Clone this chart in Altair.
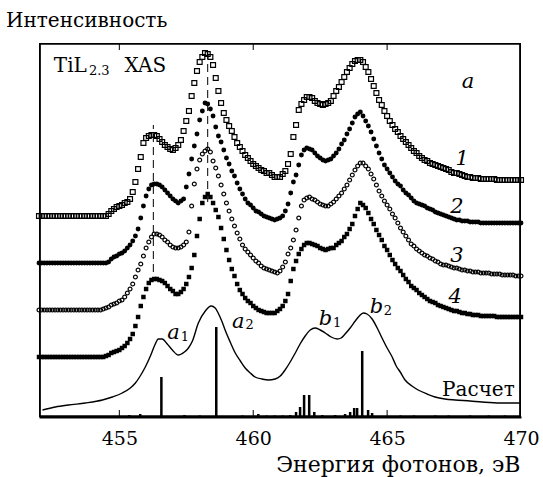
import altair as alt
import pandas as pd

# Photon energy grid of the measured spectra (eV), 0.1 eV step
energy = [round(452 + 0.1 * i, 1) for i in range(181)]

# Experimental TiL2,3 XAS spectra (arbitrary units, already vertically offset)
curve1 = [201] * 26 + [
    203, 206, 208, 210, 211, 212, 214, 215, 218, 225, 235, 248, 260, 274, 279,
    281, 282, 282, 281, 278, 275, 272, 270, 268, 267, 269, 272, 277, 286, 296, 306, 321, 334, 346, 355,
    360, 364, 363, 360, 352, 339, 326, 314, 304, 297, 291, 286, 280, 274, 270, 266, 262, 259, 256, 253,
    251, 249, 247, 246, 244, 244, 242, 240, 240, 240, 243, 246, 253, 263, 280, 292, 307, 313, 317, 320,
    320, 319, 316, 314, 313, 312, 313, 314, 316, 321, 326, 330, 335, 340, 345, 349, 353, 356, 357, 357,
    355, 350, 345, 338, 331, 324, 317, 312, 306, 301, 296, 292, 288, 285, 281, 278, 275, 272, 269, 266,
    264, 261, 259, 257, 256, 254, 253, 252, 251, 250, 249, 248, 247, 245, 244, 244, 243, 242, 241, 240,
    240, 239, 239, 239, 238, 238, 238, 238, 238, 238, 237, 237, 237, 237, 237, 237, 237, 237, 237, 237]

curve2 = [154] * 26 + [
    155, 158, 160, 161, 163, 164, 166, 169, 172, 176, 181, 188, 199, 211, 221,
    228, 232, 233, 233, 232, 230, 227, 224, 221, 218, 216, 214, 216, 218, 230, 243, 258, 271, 283, 297,
    306, 314, 313, 308, 301, 290, 281, 275, 267, 259, 253, 246, 241, 234, 228, 223, 218, 214, 212, 209,
    206, 205, 203, 201, 200, 199, 198, 197, 198, 199, 201, 206, 213, 224, 235, 242, 252, 262, 267, 269,
    268, 267, 264, 261, 259, 257, 256, 257, 258, 261, 264, 268, 273, 277, 283, 288, 294, 300, 303, 305,
    301, 296, 291, 285, 278, 271, 264, 258, 252, 248, 244, 240, 236, 233, 231, 227, 224, 222, 219, 216,
    214, 213, 212, 211, 209, 208, 207, 205, 204, 203, 202, 201, 200, 199, 198, 197, 197, 196, 196, 196,
    195, 195, 195, 195, 194, 194, 194, 194, 194, 194, 194, 194, 194, 194, 194, 194, 194, 194, 194, 194]

curve3 = [107] * 24 + [
    108, 109, 110, 112, 113, 114, 116, 117, 120, 124, 128, 133, 140, 147, 153, 161, 169,
    175, 180, 183, 183, 182, 180, 177, 175, 172, 170, 169, 169, 170, 172, 175, 185, 211, 233, 248, 257,
    263, 266, 268, 265, 256, 249, 241, 232, 223, 214, 206, 198, 191, 184, 178, 172, 168, 165, 162, 159,
    156, 154, 151, 149, 148, 147, 146, 145, 144, 146, 150, 155, 163, 169, 177, 187, 199, 211, 217, 219,
    220, 218, 217, 215, 213, 212, 211, 211, 213, 215, 218, 221, 224, 228, 232, 237, 242, 247, 251, 254,
    254, 251, 248, 243, 238, 232, 226, 221, 216, 212, 208, 203, 199, 194, 189, 185, 181, 177, 173, 171,
    168, 166, 164, 162, 161, 159, 158, 156, 155, 153, 152, 152, 151, 150, 149, 149, 148, 147, 147, 146,
    146, 145, 145, 145, 144, 144, 144, 144, 143, 143, 143, 143, 142, 142, 142, 142, 142, 141, 141, 141]

curve4 = [60] * 25 + [
    61, 62, 64, 65, 66, 67, 69, 71, 74, 78, 83, 91, 100, 111, 120, 128,
    134, 137, 138, 138, 137, 136, 134, 131, 128, 126, 123, 123, 125, 128, 133, 140, 149, 162, 181, 198,
    214, 220, 223, 220, 214, 207, 200, 189, 178, 167, 157, 148, 141, 133, 127, 123, 119, 116, 114, 111,
    109, 107, 106, 105, 104, 104, 104, 104, 106, 108, 111, 116, 123, 136, 148, 156, 163, 168, 172, 174,
    174, 173, 172, 171, 169, 168, 167, 168, 169, 169, 172, 174, 176, 180, 183, 188, 193, 201, 208, 214,
    212, 209, 204, 198, 193, 187, 182, 177, 171, 167, 162, 157, 153, 149, 146, 142, 138, 135, 131, 129,
    127, 124, 122, 120, 118, 116, 115, 114, 112, 111, 110, 109, 108, 107, 106, 106, 105, 104, 104, 103,
    103, 102, 102, 102, 101, 101, 101, 101, 101, 101, 100, 100, 100, 100, 100, 100, 100, 100, 100, 100]

# Calculated spectrum (broadened)
calc_E = [452.13, 452.61, 453.10, 453.73, 454.37, 454.74, 455.11, 455.41, 455.60, 455.78,
          455.97, 456.16, 456.31, 456.46, 456.60, 456.79, 456.98, 457.20, 457.43, 457.58,
          457.73, 457.95, 458.21, 458.43, 458.58, 458.69, 458.84, 458.95, 459.14, 459.33,
          459.52, 459.70, 459.89, 460.07, 460.33, 460.56, 460.82, 461.01, 461.19, 461.38,
          461.57, 461.75, 461.94, 462.13, 462.31, 462.50, 462.69, 462.91, 463.14, 463.28,
          463.43, 463.62, 463.81, 463.96, 464.11, 464.25, 464.44, 464.63, 464.81, 465.00,
          465.19, 465.34, 465.49, 465.67, 465.93, 466.16, 466.49, 466.79, 467.16, 467.54,
          468.10, 468.54, 469.22, 470.00]
calc_I = [7, 10, 12, 14, 17, 20, 24, 29, 34, 41,
          50, 61, 71, 78, 78, 73, 67, 62, 65, 69,
          76, 94, 106, 111, 109, 104, 95, 87, 75, 64,
          56, 49, 44, 40, 38, 37, 38, 41, 47, 55,
          64, 73, 81, 87, 89, 87, 84, 80, 78, 79,
          83, 89, 96, 101, 104, 103, 98, 89, 79, 69,
          60, 51, 45, 37, 31, 27, 23, 20, 18, 17,
          16, 15, 14, 14]

# Calculated transitions (stick spectrum)
stick_E = [455.37, 455.78, 456.57, 457.43, 458.0, 458.62, 459.6, 460.19, 460.5, 460.8,
           461.1, 461.38, 461.60, 461.75, 461.90, 462.09, 462.28, 462.58, 463.06, 463.43,
           463.62, 463.77, 463.88, 464.07, 464.29, 464.44, 465.5, 466.0, 466.8, 467.3,
           468.1, 468.8, 469.4]
stick_I = [2, 3, 40, 2, 1.5, 90, 1.5, 3, 1.5, 1.5,
           1.5, 2, 5, 10, 22, 22, 5, 2, 2, 3,
           5, 9, 9, 66, 7, 4, 1.5, 1.5, 1.5, 1.5,
           1.5, 1.5, 1.5]

# Dashed guide lines through a1 and a2 peaks
dash_E = [456.27, 458.30]
dash_lo = [145, 215]
dash_hi = [292, 367]

# inward ticks on the bottom and top frame
tick_E = [455, 460, 465, 455, 460, 465]
tick_lo = [0, 0, 0, 367, 367, 367]
tick_hi = [7, 7, 7, 374, 374, 374]

# frame bands (left, right, bottom, top) in data units
band_E = [452.0, 469.93, 452.0, 452.0]
band_E2 = [452.07, 470.0, 470.0, 470.0]
band_I = [0, 0, 0, 372.2]
band_I2 = [374, 374, 1.8, 374]

title_text = ["Интенсивность"]
title_E = [453.78]
title_I = [390]

upright_text = ["TiL", "XAS", "Расчет"]
upright_E = [453.17, 455.97, 468.41]
upright_I = [345, 345, 21]

sub_text = ["2.3", "1", "2", "1", "2"]
sub_E = [454.25, 457.45, 459.87, 463.13, 465.03]
sub_I = [342, 76, 88, 90, 102]

italic_text = ["a", "1", "2", "3", "4", "a", "a", "b", "b"]
italic_E = [468.02, 467.80, 467.61, 467.61, 467.54, 457.02, 459.44, 462.70, 464.60]
italic_I = [329, 252, 204, 155, 114, 78, 89, 92, 104]

FONT = "DejaVu Serif"
XDOM = [452, 470]
YDOM = [0, 374]

xs = alt.Scale(domain=XDOM, nice=False, zero=False)
ys = alt.Scale(domain=YDOM, nice=False, zero=False)

X = alt.X("E:Q", scale=xs, axis=alt.Axis(
    orient="bottom", values=[455, 460, 465, 470], format="d", labelFont=FONT, labelFontSize=19,
    labelColor="black", labelPadding=12, ticks=False, domain=True, domainColor="black",
    domainWidth=1.8, grid=False,
    labelFlush=False, title="Энергия фотонов, эВ", titleFont=FONT, titleFontSize=22,
    titleFontWeight="normal", titleColor="black", titleAlign="right",
    titleAnchor="end", titleBaseline="alphabetic", titleX=481, titleY=54))
Xn = alt.X("E:Q", scale=xs, axis=None)


def yy(field):
    return alt.Y(f"{field}:Q", scale=ys, axis=None)


spec = pd.DataFrame({"E": energy, "c1": curve1, "c2": curve2, "c3": curve3, "c4": curve4})
base = alt.Chart(spec)

l1 = base.mark_point(shape="square", filled=False, color="black", size=24, strokeWidth=1.2, opacity=1).encode(x=X, y=yy("c1"))
l2 = base.mark_point(shape="circle", filled=True, color="black", size=24, opacity=1).encode(x=X, y=yy("c2"))
l3 = base.mark_point(shape="circle", filled=False, color="black", size=15, strokeWidth=1.2, opacity=1).encode(x=X, y=yy("c3"))
l4 = base.mark_point(shape="square", filled=True, color="black", size=20, opacity=1).encode(x=X, y=yy("c4"))

calc = alt.Chart(pd.DataFrame({"E": calc_E, "I": calc_I})).mark_line(
    color="black", strokeWidth=1.4, interpolate="monotone").encode(x=X, y=yy("I"))

sticks = alt.Chart(pd.DataFrame({"E": stick_E, "I": stick_I, "z": [0] * len(stick_E)})).mark_rule(
    color="black", strokeWidth=2.5).encode(x=X, y=yy("I"), y2="z:Q")

dashes = alt.Chart(pd.DataFrame({"E": dash_E, "lo": dash_lo, "hi": dash_hi})).mark_rule(
    color="black", strokeWidth=1, strokeDash=[8, 5]).encode(x=X, y=yy("lo"), y2="hi:Q")

ticks = alt.Chart(pd.DataFrame({"E": tick_E, "lo": tick_lo, "hi": tick_hi})).mark_rule(
    color="black", strokeWidth=1).encode(x=X, y=yy("lo"), y2="hi:Q")

bands = alt.Chart(pd.DataFrame({"E": band_E, "E2": band_E2, "I": band_I, "I2": band_I2})).mark_rect(
    color="black", opacity=1).encode(x=X, x2="E2", y=yy("I"), y2="I2")

title = alt.Chart(pd.DataFrame({"t": title_text, "E": title_E, "I": title_I})).mark_text(
    font=FONT, fontSize=20, color="black", align="center", baseline="alphabetic").encode(
    x=X, y=yy("I"), text="t:N")
upright = alt.Chart(pd.DataFrame({"t": upright_text, "E": upright_E, "I": upright_I})).mark_text(
    font=FONT, fontSize=20, color="black", align="center", baseline="alphabetic").encode(
    x=X, y=yy("I"), text="t:N")
subs = alt.Chart(pd.DataFrame({"t": sub_text, "E": sub_E, "I": sub_I})).mark_text(
    font=FONT, fontSize=13, color="black", align="center", baseline="alphabetic").encode(
    x=X, y=yy("I"), text="t:N")
italics = alt.Chart(pd.DataFrame({"t": italic_text, "E": italic_E, "I": italic_I})).mark_text(
    font=FONT, fontSize=21, fontStyle="italic", color="black", align="center",
    baseline="alphabetic").encode(x=X, y=yy("I"), text="t:N")

chart = alt.layer(
    l1, l2, l3, l4, calc, sticks, dashes, ticks, title, upright, subs, italics, bands
).properties(
    width=482, height=374,
    background="white",
    autosize=alt.AutoSizeParams(type="none"),
    padding={"left": 39, "top": 43, "right": 22, "bottom": 60},
).configure_view(strokeWidth=0)

chart.save("out.html", embed_options={"renderer": "svg", "actions": False})
